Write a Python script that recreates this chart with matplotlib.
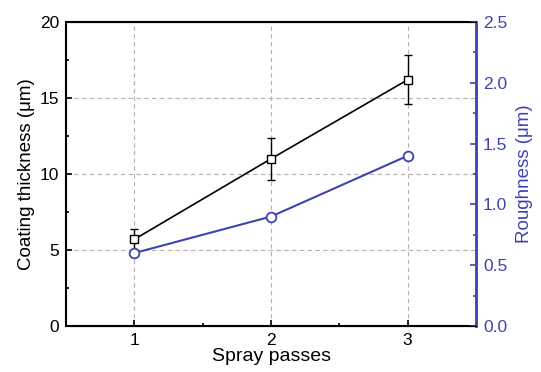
import matplotlib
matplotlib.use("Agg")
import matplotlib.pyplot as plt
from matplotlib.ticker import MultipleLocator

plt.rcParams['font.family'] = ['Liberation Sans', 'DejaVu Sans']

passes = [1, 2, 3]
thickness = [5.7, 11.0, 16.2]
thickness_err = [0.7, 1.4, 1.6]
roughness = [0.6, 0.9, 1.4]

blue = '#3d44b0'

fig = plt.figure(figsize=(5.41, 3.72), dpi=100)
ax = fig.add_axes([66/541, 1 - 326/372, (476 - 66)/541, (326 - 22)/372])
ax2 = ax.twinx()

ax.errorbar(passes, thickness, yerr=thickness_err, color='black', lw=1.2,
            marker='s', ms=6, mfc='white', mec='black', mew=1.0,
            capsize=3, elinewidth=1.0, zorder=3)
ax2.plot(passes, roughness, color=blue, lw=1.5, marker='o', ms=7,
         mfc='white', mec=blue, mew=1.3, zorder=3)

ax.set_xlim(0.5, 3.5)
ax.set_ylim(0, 20)
ax2.set_ylim(0, 2.5)
ax.set_xticks(passes)
ax.xaxis.set_minor_locator(MultipleLocator(0.5))
ax.yaxis.set_major_locator(MultipleLocator(5))
ax.yaxis.set_minor_locator(MultipleLocator(2.5))
ax2.yaxis.set_major_locator(MultipleLocator(0.5))
ax2.yaxis.set_minor_locator(MultipleLocator(0.25))
ax2.yaxis.set_major_formatter(matplotlib.ticker.FormatStrFormatter('%.1f'))

for y in [5, 10, 15]:
    ax.axhline(y, color='#b8b0b0', lw=0.8, ls=(0, (4, 3)), zorder=0)
for x in passes:
    ax.axvline(x, color='#b8b0b0', lw=0.8, ls=(0, (4, 3)), zorder=0)

ax.tick_params(which='both', direction='in', labelsize=12.5, top=False, pad=5)
ax.tick_params(which='major', length=4, width=1.2)
ax.tick_params(which='minor', length=2.5, width=1.2)
ax2.tick_params(which='both', direction='in', colors=blue, labelsize=12.5, pad=5)
ax2.tick_params(which='major', length=4, width=1.2)
ax2.tick_params(which='minor', length=2.5, width=1.2)

for s in ['left', 'bottom', 'top']:
    ax.spines[s].set_linewidth(1.5)
ax2.spines['right'].set_color(blue)
ax2.spines['right'].set_linewidth(2)
ax2.spines['left'].set_visible(False)

ax.set_xlabel('Spray passes', fontsize=14, labelpad=0)
ax.set_ylabel('Coating thickness (μm)', fontsize=13.5, labelpad=3)
ax2.set_ylabel('Roughness (μm)', fontsize=13.5, color=blue, labelpad=6)

fig.savefig('out.png', dpi=100)
